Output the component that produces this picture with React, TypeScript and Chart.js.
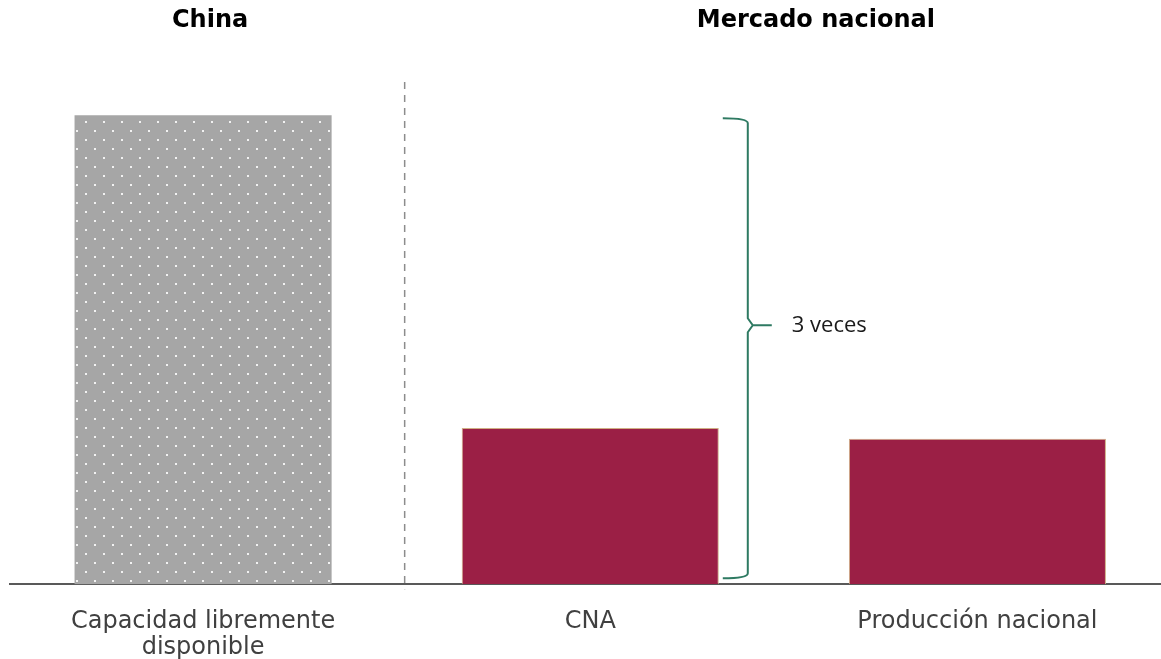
import React, { useEffect, useRef } from "react";
import { Chart, registerables } from "chart.js";

Chart.register(...registerables);

const categories: (string | string[])[] = [["Capacidad libremente", "disponible"], "CNA", "Producción nacional"];
const values: number[] = [300, 100, 93];
const groupTitles: string[] = ["China", "Mercado nacional"];
const braceLabel = "3 veces";

function makeDotPattern(): CanvasPattern | string {
  const c = document.createElement("canvas");
  c.width = 18;
  c.height = 18;
  const g = c.getContext("2d");
  if (!g) return "#a6a6a6";
  g.fillStyle = "#a6a6a6";
  g.fillRect(0, 0, 18, 18);
  g.fillStyle = "#f2f2f2";
  g.fillRect(4, 4, 2, 2);
  g.fillRect(13, 13, 2, 2);
  const p = g.createPattern(c, "repeat");
  return p || "#a6a6a6";
}

const overlayPlugin = {
  id: "overlay",
  afterDatasetsDraw(chart: any) {
    const ctx = chart.ctx as CanvasRenderingContext2D;
    const meta = chart.getDatasetMeta(0);
    const x = chart.scales.x;
    const y = chart.scales.y;
    const b0 = meta.data[0];
    const b1 = meta.data[1];
    const b2 = meta.data[2];
    const base = y.getPixelForValue(0);
    ctx.save();

    // dashed separator
    const sepX = (x.getPixelForValue(0) + x.getPixelForValue(1)) / 2 + 8;
    ctx.strokeStyle = "#8c8c8c";
    ctx.lineWidth = 1.5;
    ctx.setLineDash([7, 6]);
    ctx.beginPath();
    ctx.moveTo(sepX, chart.chartArea.top - 2);
    ctx.lineTo(sepX, base + 5);
    ctx.stroke();
    ctx.setLineDash([]);

    // brace
    const spine = b1.x + b1.width / 2 + 29;
    const xl = spine - 25;
    const tip = spine + 24;
    const yTop = b0.y + 3;
    const yBot = base - 6;
    const yMid = yTop + (yBot - yTop) * 0.45;
    const r = 5;
    ctx.strokeStyle = "#2e7a62";
    ctx.lineWidth = 2;
    ctx.beginPath();
    ctx.moveTo(xl, yTop);
    ctx.quadraticCurveTo(spine, yTop, spine, yTop + r);
    ctx.lineTo(spine, yMid - 7);
    ctx.lineTo(spine + 5, yMid);
    ctx.lineTo(tip, yMid);
    ctx.moveTo(spine + 5, yMid);
    ctx.lineTo(spine, yMid + 7);
    ctx.lineTo(spine, yBot - r);
    ctx.quadraticCurveTo(spine, yBot, xl, yBot);
    ctx.stroke();

    ctx.fillStyle = "#1a1a1a";
    ctx.font = "22px 'Open Sans'";
    ctx.textAlign = "left";
    ctx.textBaseline = "middle";
    ctx.fillText(braceLabel, tip + 20, yMid);

    // group titles
    ctx.fillStyle = "#000000";
    ctx.font = "bold 24px 'DejaVu Sans'";
    ctx.textAlign = "center";
    ctx.textBaseline = "middle";
    ctx.fillText(groupTitles[0], b0.x + 7, 21);
    ctx.fillText(groupTitles[1], (b1.x + b2.x) / 2 + 32, 21);
    ctx.restore();
  },
};

export default function App() {
  const ref = useRef<HTMLCanvasElement | null>(null);
  useEffect(() => {
    if (!ref.current) return;
    const pattern = makeDotPattern();
    const chart = new Chart(ref.current, {
      type: "bar",
      data: {
        labels: categories,
        datasets: [
          {
            data: values,
            backgroundColor: [pattern, "#9b1f45", "#9b1f45"] as any,
            borderColor: ["rgba(0,0,0,0)", "#cfae84", "#cfae84"],
            borderWidth: [0, 1, 1] as any,
            barPercentage: 0.664,
            categoryPercentage: 1,
          },
        ],
      },
      options: {
        responsive: false,
        animation: false,
        devicePixelRatio: 1,
        layout: { padding: { left: 9.5, right: 0, top: 84, bottom: -26 } },
        plugins: { legend: { display: false }, tooltip: { enabled: false }, title: { display: false } },
        scales: {
          x: {
            grid: { display: false, drawTicks: false },
            border: { display: true, color: "#595959", width: 2 },
            ticks: {
              color: "#404040",
              padding: 24,
              maxRotation: 0,
              autoSkip: false,
              font: { family: "'DejaVu Sans'", size: 24, lineHeight: 1.1 },
            },
          },
          y: { display: false, min: 0, max: 320 },
        },
      },
      plugins: [overlayPlugin],
    });
    return () => chart.destroy();
  }, []);
  return (
    <div style={{ position: "fixed", left: 0, top: 0, width: 1161, height: 659, overflow: "hidden", background: "#fff" }}>
      <canvas ref={ref} width={1171} height={659} style={{ display: "block" }} />
    </div>
  );
}
